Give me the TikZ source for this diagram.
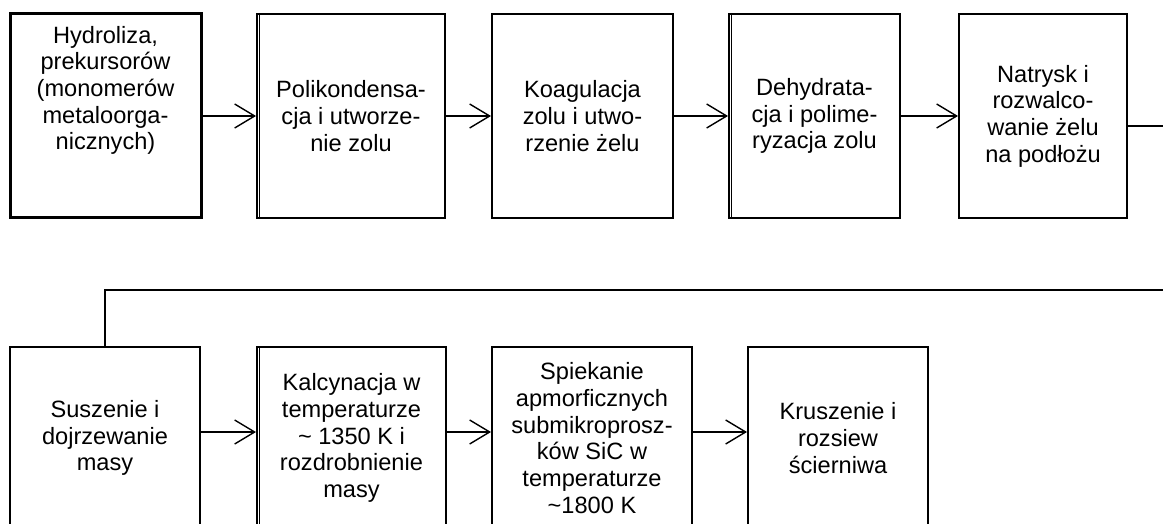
\documentclass[tikz,border=0pt]{standalone}
\usepackage{fontspec}
\setmainfont{Liberation Sans}
\usepackage{tikz}
\usetikzlibrary{arrows.meta}
\tikzset{
    procbox/.style = {draw, line width=2pt, rectangle, align=center, minimum height=204pt,
        inner sep=4pt, font=\fontsize{23.6}{26.7}\selectfont},
    flow/.style = {line width=1.4pt, -{Straight Barb[length=20pt,width=24pt,line width=1.4pt]}},
    link/.style = {line width=2pt}
}

\begin{document}
\begin{tikzpicture} [x=1pt, y=-1pt]
    \useasboundingbox (0,0) rectangle (1163,524);
    \clip (0,0) rectangle (1163,524);
    \node[procbox, line width=3pt, minimum width=191pt, text depth=56pt] (b1) at (105.5,116) {Hydroliza,\\prekursorów\\(monomerów\\metaloorga-\\nicznych)};
    \node[procbox, minimum width=188pt] (b2) at (351,116) {Polikondensa-\\cja i utworze-\\nie zolu};
    \node[procbox, minimum width=181pt] (b3) at (582.5,116) {Koagulacja\\zolu i utwo-\\rzenie żelu};
    \node[procbox, minimum width=171pt] (b4) at (814.5,116) {Dehydrata-\\cja i polime-\\ryzacja zolu};
    \node[procbox, minimum width=168pt] (b5) at (1043,116) {Natrysk i\\rozwalco-\\wanie żelu\\na podłożu};
    \node[procbox, minimum width=190pt, minimum height=182pt] (b6) at (105,438) {Suszenie i\\dojrzewanie\\masy};
    \node[procbox, minimum width=189pt, minimum height=182pt] (b7) at (351.5,438) {Kalcynacja w\\temperaturze\\\textasciitilde{} 1350 K i\\rozdrobnienie\\masy};
    \node[procbox, minimum width=200pt, minimum height=182pt] (b8) at (592,438) {Spiekanie\\apmorficznych\\submikroprosz-\\ków SiC w\\temperaturze\\\textasciitilde1800 K};
    \node[procbox, minimum width=180pt, minimum height=182pt] (b9) at (838,438) {Kruszenie i\\rozsiew\\ścierniwa};
    \foreach \n in {b2,b4,b7} {
    \draw[line width=1pt] ([xshift=3.5pt]\n.north west) -- ([xshift=3.5pt]\n.south west);
    }
    \foreach \a/\b in {b1/b2, b2/b3, b3/b4, b4/b5} {
    \draw[flow] (\a.east) -- (\b.west);
    }
    \foreach \a/\b in {b6/b7, b7/b8, b8/b9} {
    \draw[flow] ([yshift=6pt]\a.east) -- ([yshift=6pt]\b.west);
    }
    \coordinate (out1) at (1175,126);
    \coordinate (out2) at (1175,290);
    \draw[link] ([yshift=-10pt]b5.east) -- (out1);
    \draw[link] (out2) -| (b6.north);
\end{tikzpicture}
\end{document}
